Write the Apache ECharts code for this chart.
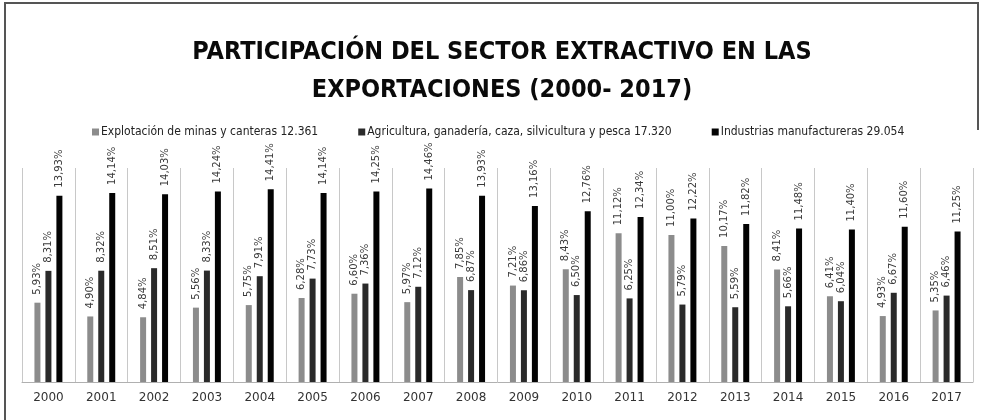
<!DOCTYPE html>
<html><head><meta charset="utf-8">
<script src="https://cdn.jsdelivr.net/npm/echarts@6/dist/echarts.min.js"></script>
<style>html,body{margin:0;padding:0;background:#fff}#c{width:981px;height:420px}</style>
</head><body><div id="c"></div>
<script>
const years = ['2000','2001','2002','2003','2004','2005','2006','2007','2008','2009','2010','2011','2012','2013','2014','2015','2016','2017'];
const seriesNames = ['Explotación de minas y canteras 12.361','Agricultura, ganadería, caza, silvicultura y pesca 17.320','Industrias manufactureras 29.054'];
const mining = [5.93,4.90,4.84,5.56,5.75,6.28,6.60,5.97,7.85,7.21,8.43,11.12,11.00,10.17,8.41,6.41,4.93,5.35];
const agri = [8.31,8.32,8.51,8.33,7.91,7.73,7.36,7.12,6.87,6.86,6.50,6.25,5.79,5.59,5.66,6.04,6.67,6.46];
const manuf = [13.93,14.14,14.03,14.24,14.41,14.14,14.25,14.46,13.93,13.16,12.76,12.34,12.22,11.82,11.48,11.40,11.60,11.25];
const colors = ['#8c8c8c','#2a2a2a','#030303'];

const chart = echarts.init(document.getElementById('c'));
const lbl = {
  show: true, position: 'top', rotate: 90, align: 'left', verticalAlign: 'middle',
  distance: 8, fontFamily: 'DejaVu Sans', fontSize: 10, color: '#3a3a3a',
  formatter: p => p.value.toFixed(2).replace('.', ',') + '%'
};
function mk(name, data, color) {
  return { name, type: 'bar', data, barWidth: 6, barGap: '83%', itemStyle: { color }, label: lbl, animation: false };
}
chart.setOption({
  animation: false,
  title: {
    text: 'PARTICIPACIÓN DEL SECTOR EXTRACTIVO EN LAS\nEXPORTACIONES (2000- 2017)',
    left: 497, top: 28, textAlign: 'center',
    textStyle: { fontFamily: 'DejaVu Sans Condensed', fontWeight: 'bold', fontSize: 25, lineHeight: 38, color: '#0a0a0a' }
  },
  legend: {
    top: 121, left: 87, itemWidth: 7, itemHeight: 7, itemGap: 40, icon: 'rect',
    textStyle: { fontFamily: 'DejaVu Sans Condensed', fontSize: 12, color: '#222', padding: [0,0,0,-3] }
  },
  grid: { left: 22, right: 8, top: 168, bottom: 38 },
  xAxis: {
    type: 'category', data: years,
    axisLine: { lineStyle: { color: '#b0b0b0' } },
    axisTick: { show: false },
    splitLine: { show: true, lineStyle: { color: '#c8c8c8' } },
    axisLabel: { fontFamily: 'DejaVu Sans', fontSize: 12, color: '#333', margin: 10 }
  },
  yAxis: { type: 'value', min: 0, max: 16, show: false, splitLine: { show: false } },
  series: [mk(seriesNames[0], mining, colors[0]), mk(seriesNames[1], agri, colors[1]), mk(seriesNames[2], manuf, colors[2])],
  graphic: [
    { type: 'polyline', shape: { points: [[5, 430], [5, 3], [978, 3], [978, 130]] }, style: { stroke: '#555', lineWidth: 2, fill: null } }
  ]
});
</script></body></html>
